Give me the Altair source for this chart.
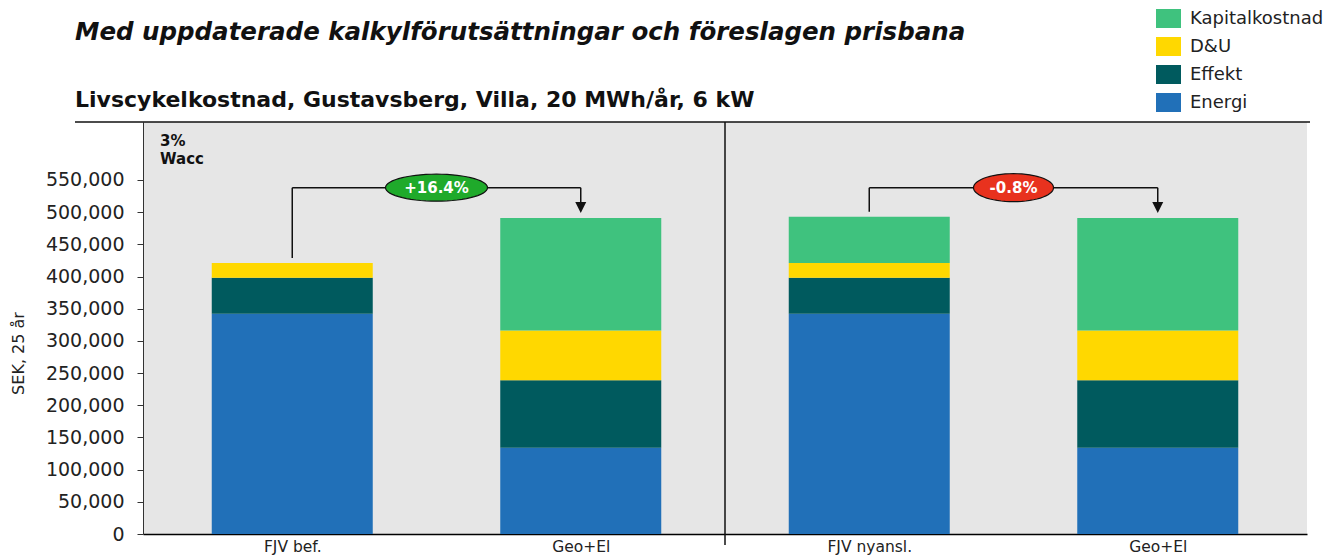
import json
import math
import altair as alt
import pandas as pd

# ---------------- data ----------------
categories = ["FJV bef.", "Geo+El", "FJV nyansl.", "Geo+El"]
series = ["Energi", "Effekt", "D&U", "Kapitalkostnad"]
energi = [342000, 134000, 342000, 134000]
effekt = [56000, 105000, 56000, 105000]
du = [23000, 77000, 23000, 77000]
kapital = [0, 175000, 72000, 175000]
y_ticks = list(range(0, 550001, 50000))
legend_order = ["Kapitalkostnad", "D&U", "Effekt", "Energi"]
comparison_from = [0, 2]
comparison_to = [1, 3]
comparison_labels = ["+16.4%", "-0.8%"]
bracket_level = 538000
title_text = "Med uppdaterade kalkylförutsättningar och föreslagen prisbana"
subtitle_text = "Livscykelkostnad, Gustavsberg, Villa, 20 MWh/år, 6 kW"
wacc_text = ["3%", "Wacc"]
y_title = "SEK, 25 år"

# ---------------- styles ----------------
colors = {"Kapitalkostnad": "#3fc27e", "D&U": "#ffd800", "Effekt": "#005a5e", "Energi": "#2170b8"}
bubble_colors = ["#1faa2b", "#e8321e"]
bubble_sizes = [(102, 27), (80, 28)]
FONT = "DejaVu Sans"
W, H = 1164, 412

values = {"Energi": energi, "Effekt": effekt, "D&U": du, "Kapitalkostnad": kapital}
rows = []
for i, cat in enumerate(categories):
    for r, s in enumerate(series):
        rows.append({"idx": i, "cat": cat, "series": s, "value": values[s][i], "rank": r})
df = pd.DataFrame(rows)

totals = [sum(values[s][i] for s in series) for i in range(len(categories))]
br = pd.DataFrame({
    "x0": comparison_from,
    "x1": comparison_to,
    "xm": [(a + b) / 2 for a, b in zip(comparison_from, comparison_to)],
    "t0": [totals[a] for a in comparison_from],
    "t1": [totals[b] for b in comparison_to],
    "level": [bracket_level] * len(comparison_labels),
    "label": comparison_labels,
})

xscale = alt.Scale(domain=[-0.5, len(categories) - 0.5], nice=False, zero=False)
yscale = alt.Scale(domain=[0, 640000], nice=False)

label_expr = json.dumps(categories) + "[datum.value]"

x_axis = alt.Axis(values=list(range(len(categories))), labelExpr=label_expr,
                  ticks=False, grid=False, domainColor="#000", domainWidth=1.5,
                  labelFont=FONT, labelFontSize=15.5, labelColor="#222", labelPadding=5)
y_axis = alt.Axis(values=y_ticks, format=",d", grid=False, domainColor="#333",
                  tickColor="#333", tickSize=6, labelPadding=13, labelOverlap=False,
                  labelFont=FONT, labelFontSize=19, labelColor="#222",
                  titleFont=FONT, titleFontSize=16, titleFontWeight="normal",
                  titleColor="#222", titleX=-125, titleY=231, titleBaseline="middle",
                  titleAngle=270)


def X(field):
    return alt.X(field, scale=xscale, axis=x_axis, title=None)


def Y(field, **kw):
    return alt.Y(field, scale=yscale, axis=y_axis, title=y_title, **kw)


bars = alt.Chart(df).mark_bar(size=161).encode(
    x=X("idx:Q"),
    y=Y("value:Q", stack="zero"),
    color=alt.Color("series:N",
                    scale=alt.Scale(domain=legend_order, range=[colors[s] for s in legend_order]),
                    legend=alt.Legend(orient="none", legendX=1013, legendY=-116, title=None,
                                      symbolType="M-1,-0.76H1V0.76H-1Z", symbolSize=625,
                                      symbolStrokeWidth=0, symbolOpacity=1,
                                      labelFont=FONT, labelFontSize=18, labelColor="#222",
                                      labelOffset=9, rowPadding=6)),
    order=alt.Order("rank:Q"),
)

line_style = dict(color="#111", strokeWidth=1.5)
left_vert = alt.Chart(br).mark_rule(yOffset=-5, **line_style).encode(
    x=X("x0:Q"), y=Y("t0:Q"), y2="level:Q")
horiz = alt.Chart(br).mark_rule(**line_style).encode(
    x=X("x0:Q"), x2="x1:Q", y=Y("level:Q"))
right_vert = alt.Chart(br).mark_rule(y2Offset=-11, **line_style).encode(
    x=X("x1:Q"), y=Y("level:Q"), y2="t1:Q")
arrow = alt.Chart(br).mark_point(shape="M-1,-1L1,-1L0,1Z", size=121, filled=True,
                                 color="#111", opacity=1, yOffset=-10.5).encode(
    x=X("x1:Q"), y=Y("t1:Q"))


def ellipse_path(ratio, n=60):
    pts = []
    for k in range(n):
        t = 2 * math.pi * k / n
        pts.append(f"{math.cos(t):.4f},{ratio * math.sin(t):.4f}")
    return "M" + "L".join(pts) + "Z"


bubbles = []
for k in range(len(comparison_labels)):
    w, h = bubble_sizes[k]
    sub = br.iloc[[k]]
    bubbles.append(alt.Chart(sub).mark_point(shape=ellipse_path(h / w), size=w * w, filled=True,
                                             fill=bubble_colors[k], stroke="#111", strokeWidth=1.2,
                                             opacity=1, fillOpacity=1).encode(
        x=X("xm:Q"), y=Y("level:Q")))
bubble_text = alt.Chart(br).mark_text(font=FONT, fontWeight="bold", fontSize=15, color="white",
                                      align="center", baseline="middle", dy=0.5).encode(
    x=X("xm:Q"), y=Y("level:Q"), text="label:N")

divider = alt.Chart(pd.DataFrame({"d": [1.5]})).mark_rule(color="#111", strokeWidth=1.5).encode(
    x=X("d:Q"), y=alt.value(0), y2=alt.value(H + 11))

top_line = alt.Chart(pd.DataFrame({"d": [0]})).mark_rule(color="#111", strokeWidth=1.5).encode(
    x=alt.value(-68), x2=alt.value(W + 3), y=alt.value(0))

title = alt.Chart(pd.DataFrame({"t": [title_text]})).mark_text(
    font=FONT, fontSize=24.5, fontWeight="bold", fontStyle="italic", align="left",
    baseline="alphabetic", color="#111").encode(text="t:N", x=alt.value(-68), y=alt.value(-82))
subtitle = alt.Chart(pd.DataFrame({"t": [subtitle_text]})).mark_text(
    font=FONT, fontSize=22, fontWeight="bold", align="left", baseline="alphabetic",
    color="#111").encode(text="t:N", x=alt.value(-68), y=alt.value(-15))
wacc = alt.Chart(pd.DataFrame({"t": [wacc_text]})).mark_text(
    font=FONT, fontSize=15, fontWeight="bold", align="left", baseline="alphabetic",
    color="#111", lineHeight=18).encode(text="t", x=alt.value(17), y=alt.value(24))

chart = alt.layer(
    bars, left_vert, horiz, right_vert, arrow, *bubbles, bubble_text,
    divider, top_line, title, subtitle, wacc,
).properties(
    width=W, height=H,
    autosize=alt.AutoSizeParams(type="none"),
    padding={"left": 135, "top": 114, "right": 25, "bottom": 24},
).configure(background="white").configure_view(fill="#e6e6e6", strokeWidth=0)

chart.save("out.html", embed_options={"renderer": "svg", "actions": False})
